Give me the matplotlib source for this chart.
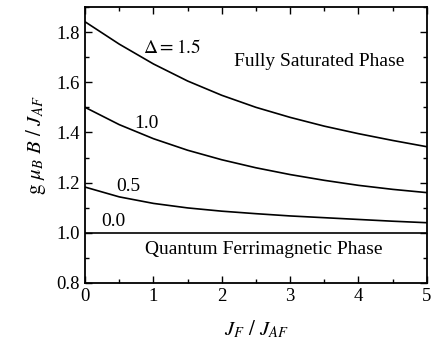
import numpy as np
import matplotlib
matplotlib.use('Agg')
import matplotlib.pyplot as plt
from matplotlib.ticker import MultipleLocator

plt.rcParams['font.family'] = 'Liberation Serif'
plt.rcParams['mathtext.fontset'] = 'stix'

# saturation field curves
jf = [0.0, 0.5, 1.0, 1.5, 2.0, 2.5, 3.0, 3.5, 4.0, 4.5, 5.0]
h_15 = [1.841, 1.752, 1.673, 1.605, 1.548, 1.500, 1.460, 1.425, 1.395, 1.368, 1.343]
h_10 = [1.500, 1.431, 1.375, 1.329, 1.291, 1.259, 1.232, 1.209, 1.189, 1.173, 1.160]
h_05 = [1.182, 1.143, 1.117, 1.099, 1.086, 1.076, 1.067, 1.060, 1.053, 1.046, 1.040]
h_00 = [1.0] * len(jf)

fig = plt.figure(figsize=(4.32, 3.51), dpi=100)
ax = fig.add_axes([0.197, 0.194, 0.791, 0.786])

for h in [h_15, h_10, h_05, h_00]:
    ax.plot(jf, h, color='black', lw=1.2, solid_joinstyle='round')

ax.set_xlim(0, 5)
ax.set_ylim(0.8, 1.9)
ax.xaxis.set_major_locator(MultipleLocator(1))
ax.xaxis.set_minor_locator(MultipleLocator(0.5))
ax.yaxis.set_major_locator(MultipleLocator(0.2))
ax.yaxis.set_minor_locator(MultipleLocator(0.1))
ax.tick_params(which='both', direction='in', top=True, right=True,
               labelsize=13.5, width=1.0)
ax.tick_params(which='major', length=5)
ax.tick_params(which='minor', length=3)
for s in ax.spines.values():
    s.set_linewidth(1.3)

ax.text(1.27, 1.736, r'$\Delta = 1.5$', fontsize=14, ha='center', va='center')
ax.text(0.9, 1.434, '1.0', fontsize=14, ha='center', va='center')
ax.text(0.63, 1.183, '0.5', fontsize=14, ha='center', va='center')
ax.text(0.42, 1.043, '0.0', fontsize=14, ha='center', va='center')
ax.text(3.42, 1.682, 'Fully Saturated Phase', fontsize=14,
        ha='center', va='center')
ax.text(2.61, 0.935, 'Quantum Ferrimagnetic Phase', fontsize=14,
        ha='center', va='center')

ax.set_xlabel(r'$J_F\ /\ J_{AF}$', fontsize=15, labelpad=10)
ax.set_ylabel(r'$\mathrm{g}\ \mu_B\ B\ /\ J_{AF}$', fontsize=15, labelpad=6)

fig.savefig('out.png', dpi=100)
